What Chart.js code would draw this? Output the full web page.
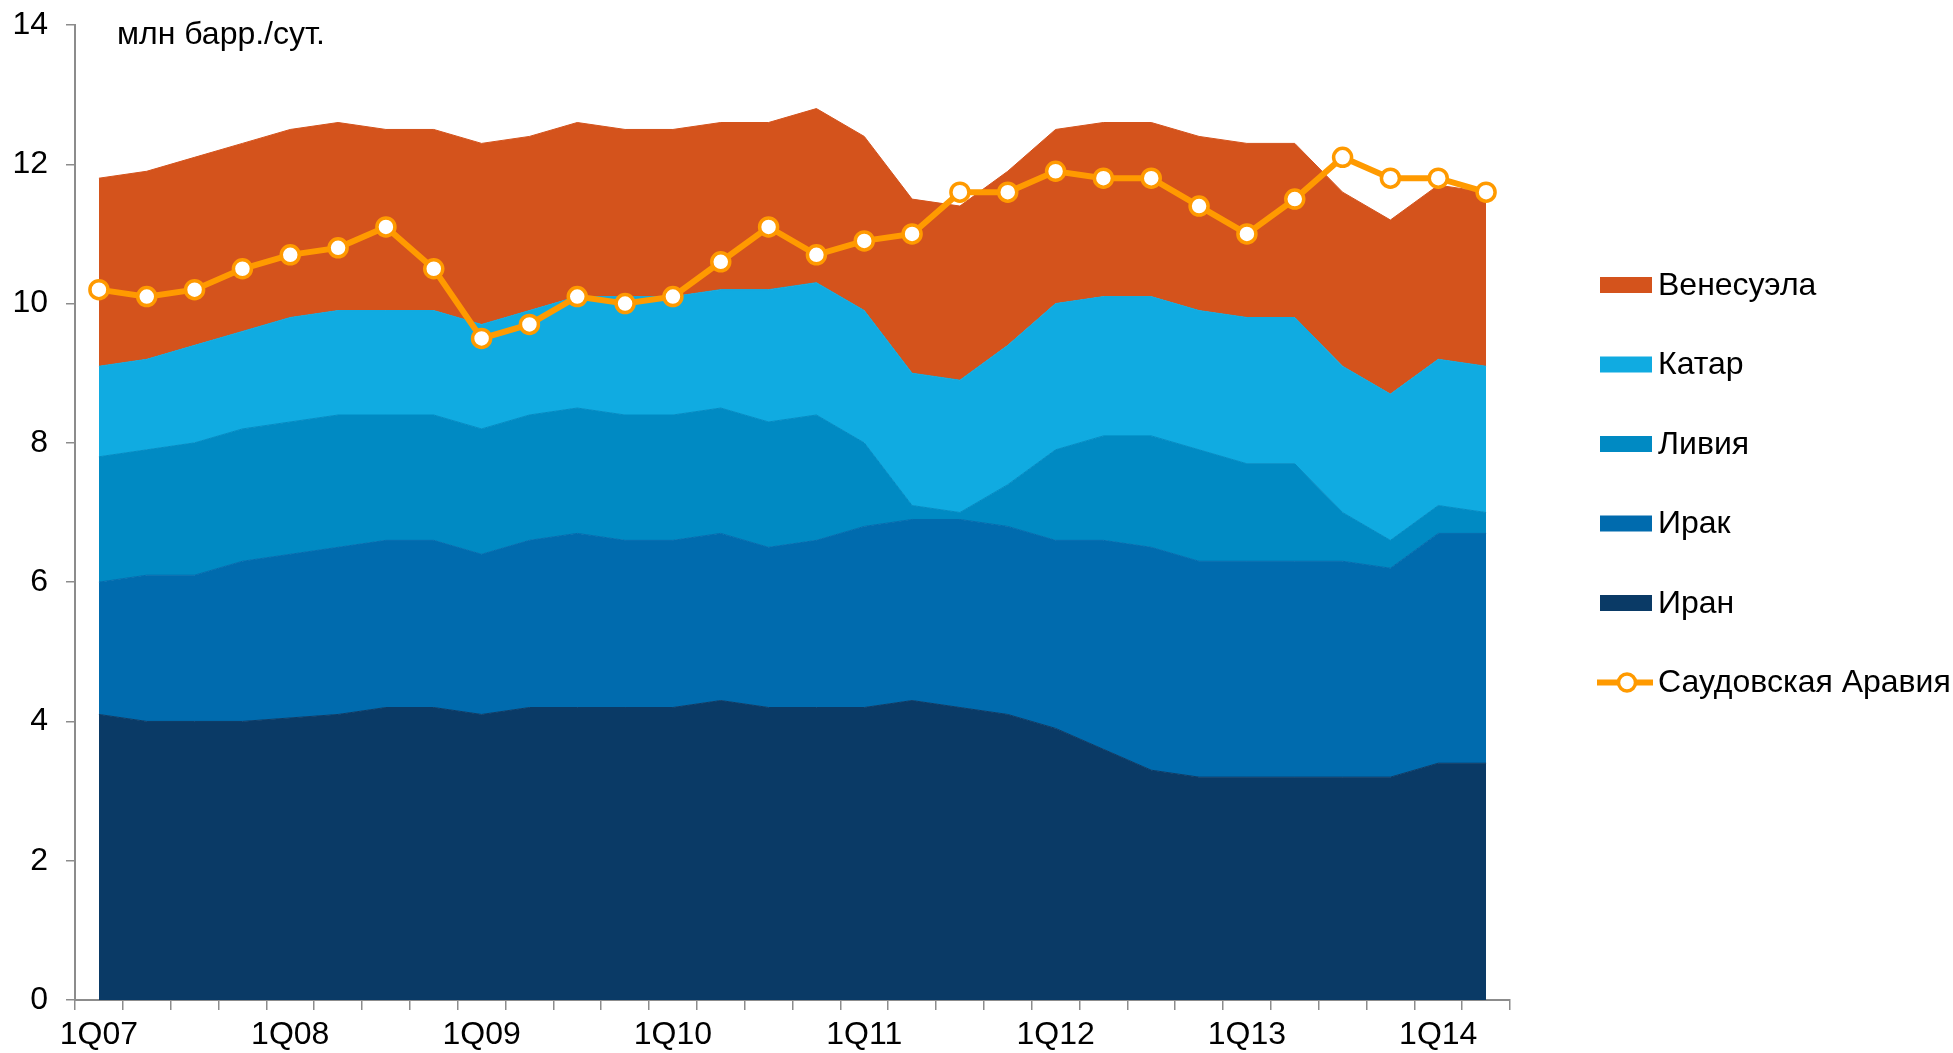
<!DOCTYPE html>
<html>
<head>
<meta charset="utf-8">
<script src="https://cdn.jsdelivr.net/npm/chart.js@4"></script>
<style>
  html, body { margin: 0; padding: 0; background: #fff; }
  #chart { display: block; }
</style>
</head>
<body>
<canvas id="chart" width="1953" height="1053"></canvas>
<script>
// quarters on the x axis
const quarters = [
  "1Q07", "2Q07", "3Q07", "4Q07",
  "1Q08", "2Q08", "3Q08", "4Q08",
  "1Q09", "2Q09", "3Q09", "4Q09",
  "1Q10", "2Q10", "3Q10", "4Q10",
  "1Q11", "2Q11", "3Q11", "4Q11",
  "1Q12", "2Q12", "3Q12", "4Q12",
  "1Q13", "2Q13", "3Q13", "4Q13",
  "1Q14", "2Q14"
];

// million barrels per day, stacked from the bottom
const iran = [4.1, 4.0, 4.0, 4.0, 4.05, 4.1, 4.2, 4.2, 4.1, 4.2, 4.2, 4.2, 4.2, 4.3, 4.2, 4.2, 4.2, 4.3, 4.2, 4.1, 3.9, 3.6, 3.3, 3.2, 3.2, 3.2, 3.2, 3.2, 3.4, 3.4];
const iraq = [1.9, 2.1, 2.1, 2.3, 2.35, 2.4, 2.4, 2.4, 2.3, 2.4, 2.5, 2.4, 2.4, 2.4, 2.3, 2.4, 2.6, 2.6, 2.7, 2.7, 2.7, 3.0, 3.2, 3.1, 3.1, 3.1, 3.1, 3.0, 3.3, 3.3];
const libya = [1.8, 1.8, 1.9, 1.9, 1.9, 1.9, 1.8, 1.8, 1.8, 1.8, 1.8, 1.8, 1.8, 1.8, 1.8, 1.8, 1.2, 0.2, 0.1, 0.6, 1.3, 1.5, 1.6, 1.6, 1.4, 1.4, 0.7, 0.4, 0.4, 0.3];
const qatar = [1.3, 1.3, 1.4, 1.4, 1.5, 1.5, 1.5, 1.5, 1.5, 1.5, 1.6, 1.7, 1.7, 1.7, 1.9, 1.9, 1.9, 1.9, 1.9, 2.0, 2.1, 2.0, 2.0, 2.0, 2.1, 2.1, 2.1, 2.1, 2.1, 2.1];
const venezuela = [2.7, 2.7, 2.7, 2.7, 2.7, 2.7, 2.6, 2.6, 2.6, 2.5, 2.5, 2.4, 2.4, 2.4, 2.4, 2.5, 2.5, 2.5, 2.5, 2.5, 2.5, 2.5, 2.5, 2.5, 2.5, 2.5, 2.5, 2.5, 2.5, 2.5];
// Saudi Arabia, drawn as a line on the same scale
const saudi = [10.2, 10.1, 10.2, 10.5, 10.7, 10.8, 11.1, 10.5, 9.5, 9.7, 10.1, 10.0, 10.1, 10.6, 11.1, 10.7, 10.9, 11.0, 11.6, 11.6, 11.9, 11.8, 11.8, 11.4, 11.0, 11.5, 12.1, 11.8, 11.8, 11.6];

const yMin = 0;
const yMax = 14;
const yStep = 2;
const unitLabel = "млн барр./сут.";

const FONT = "'Liberation Sans', Arial, sans-serif";
const FONT_SIZE = 32;
const ORANGE = "#ff9a00";

function area(label, data, color, fill) {
  return {
    label: label,
    data: data,
    backgroundColor: color,
    borderColor: color,
    borderWidth: 1,
    pointRadius: 0,
    fill: fill,
    stack: "opec",
    order: 1,
    tension: 0
  };
}

const datasets = [
  area("Иран", iran, "#0a3a66", "origin"),
  area("Ирак", iraq, "#006bae", "-1"),
  area("Ливия", libya, "#008ac3", "-1"),
  area("Катар", qatar, "#10abe1", "-1"),
  area("Венесуэла", venezuela, "#d4531c", "-1"),
  {
    label: "Саудовская Аравия",
    data: saudi,
    borderColor: ORANGE,
    backgroundColor: "#ffffff",
    borderWidth: 6,
    pointRadius: 9,
    pointBorderWidth: 3.5,
    pointBorderColor: ORANGE,
    pointBackgroundColor: "#ffffff",
    fill: false,
    stack: "saudi",
    order: 0,
    tension: 0
  }
];

// legend + unit caption drawn by hand
const extras = {
  id: "extras",
  afterDraw(chart) {
    const ctx = chart.ctx;
    ctx.save();
    ctx.font = FONT_SIZE + "px " + FONT;
    ctx.fillStyle = "#000";
    ctx.textBaseline = "alphabetic";
    ctx.textAlign = "left";
    ctx.fillText(unitLabel, 117, 44);

    const order = [4, 3, 2, 1, 0, 5];
    const x0 = 1600, y0 = 285, step = 79.5;
    ctx.textBaseline = "middle";
    order.forEach((di, k) => {
      const ds = chart.data.datasets[di];
      const y = y0 + k * step;
      if (di === 5) {
        ctx.strokeStyle = ORANGE;
        ctx.lineWidth = 6;
        ctx.beginPath();
        ctx.moveTo(x0 - 3, y);
        ctx.lineTo(x0 + 53, y);
        ctx.stroke();
        ctx.beginPath();
        ctx.arc(x0 + 27, y, 8.5, 0, Math.PI * 2);
        ctx.fillStyle = "#fff";
        ctx.fill();
        ctx.lineWidth = 3.5;
        ctx.stroke();
      } else {
        ctx.fillStyle = ds.backgroundColor;
        ctx.fillRect(x0, y - 8, 52, 16);
      }
      ctx.fillStyle = "#000";
      ctx.fillText(ds.label, x0 + 58, y + 1);
    });
    ctx.restore();
  }
};

new Chart(document.getElementById("chart"), {
  type: "line",
  data: { labels: quarters, datasets: datasets },
  options: {
    responsive: false,
    animation: false,
    devicePixelRatio: 1,
    layout: { padding: { top: 25, right: 443, left: 0, bottom: 0 } },
    plugins: {
      legend: { display: false },
      tooltip: { enabled: false },
      title: { display: false }
    },
    scales: {
      x: {
        offset: true,
        border: { color: "#8c8c8c", width: 2 },
        grid: {
          offset: true,
          display: true,
          drawOnChartArea: false,
          drawTicks: true,
          tickLength: 10,
          color: "#8c8c8c",
          lineWidth: 1.5
        },
        ticks: {
          autoSkip: false,
          maxRotation: 0,
          padding: 6,
          color: "#000",
          font: { family: FONT, size: FONT_SIZE },
          callback: function (v, i) {
            return i % 4 === 0 ? this.getLabelForValue(v) : "";
          }
        },
        afterFit(scale) {
          scale.height = 53;
          scale.paddingLeft = 0;
          scale.paddingRight = 0;
        }
      },
      y: {
        stacked: true,
        min: yMin,
        max: yMax,
        border: { color: "#8c8c8c", width: 2 },
        grid: {
          display: true,
          drawOnChartArea: false,
          drawTicks: true,
          tickLength: 9,
          color: "#8c8c8c",
          lineWidth: 1.5
        },
        ticks: {
          stepSize: yStep,
          padding: 18,
          color: "#000",
          font: { family: FONT, size: FONT_SIZE }
        },
        afterFit(scale) {
          scale.width = 75;
          scale.paddingTop = 0;
          scale.paddingBottom = 0;
        }
      }
    }
  },
  plugins: [extras]
});
</script>
</body>
</html>
